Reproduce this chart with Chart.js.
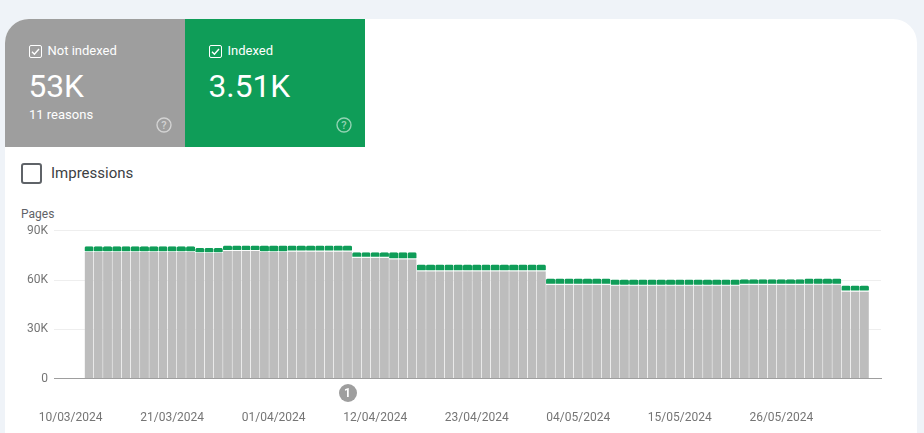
<!DOCTYPE html>
<html>
<head>
<meta charset="utf-8">
<title>Page indexing</title>
<script src="https://cdn.jsdelivr.net/npm/chart.js"></script>
<style>
    html, body { margin: 0; padding: 0; width: 924px; height: 433px; overflow: hidden; background: #eff3f8; font-family: Roboto, sans-serif; }
    .card { position: absolute; left: 5px; top: 19px; width: 912px; height: 440px; background: #fff; border-radius: 24px 24px 0 0; overflow: hidden; }
    .tile { position: absolute; top: 0; width: 180px; height: 128px; color: #fff; }
    .tile.grey { left: 0; background: #9e9e9e; }
    .tile.green { left: 180px; background: #0f9d58; }
    .tile svg.check { position: absolute; left: 24px; top: 26px; }
    .tile .name { position: absolute; left: 42.5px; top: 24px; font-size: 13px; line-height: 16px; }
    .tile .big { position: absolute; left: 23.5px; top: 49px; font-size: 31.7px; line-height: 38px; }
    .tile .sub { position: absolute; left: 24px; top: 88px; font-size: 13px; line-height: 16px; }
    .tile svg.help { position: absolute; left: 150.5px; top: 98px; }
    .impressions { position: absolute; left: 21px; top: 163px; width: 17px; height: 17px; border: 2px solid #5f6368; border-radius: 3px; }
    .impressions-label { position: absolute; left: 51px; top: 164px; font-size: 15px; line-height: 18px; color: #3c4043; }
    .pages { position: absolute; left: 21px; top: 207px; font-size: 12px; line-height: 14px; color: #5f6368; }
    #wrap { position: absolute; left: 0; top: 200px; width: 924px; height: 233px; }
    .badge { position: absolute; left: 338.5px; top: 384px; width: 18px; height: 18px; border-radius: 50%; background: #9e9e9e; color: #fff; font-size: 12px; font-weight: 700; line-height: 18px; text-align: center; }
</style>
</head>
<body>
<div class="card">
    <div class="tile grey">
        <svg class="check" width="13" height="13" viewBox="0 0 13 13"><rect x=".5" y=".5" width="12" height="12" rx="1.5" fill="none" stroke="#fff"/><path d="M3 6.8l2.4 2.4L10 4" fill="none" stroke="#fff" stroke-width="1.4"/></svg>
        <div class="name">Not indexed</div>
        <div class="big">53K</div>
        <div class="sub">11 reasons</div>
        <svg class="help" width="16" height="16" viewBox="0 0 16 16"><circle cx="8" cy="8" r="7" fill="none" stroke="#fff" stroke-opacity=".55" stroke-width="1.4"/><text x="8" y="12" font-size="11" font-weight="500" text-anchor="middle" fill="#fff" fill-opacity=".55">?</text></svg>
    </div>
    <div class="tile green">
        <svg class="check" width="13" height="13" viewBox="0 0 13 13"><rect x=".5" y=".5" width="12" height="12" rx="1.5" fill="none" stroke="#fff"/><path d="M3 6.8l2.4 2.4L10 4" fill="none" stroke="#fff" stroke-width="1.4"/></svg>
        <div class="name">Indexed</div>
        <div class="big">3.51K</div>
        <svg class="help" width="16" height="16" viewBox="0 0 16 16"><circle cx="8" cy="8" r="7" fill="none" stroke="#fff" stroke-opacity=".55" stroke-width="1.4"/><text x="8" y="12" font-size="11" font-weight="500" text-anchor="middle" fill="#fff" fill-opacity=".55">?</text></svg>
    </div>
</div>
<div class="impressions"></div>
<div class="impressions-label">Impressions</div>
<div class="pages">Pages</div>
<div id="wrap"><canvas id="chart"></canvas></div>
<div class="badge">1</div>

<script>
// Values, one per day, in thousands of pages
const notIndexed = [
    77, 77, 77, 77, 77, 77, 77, 77, 77, 77, 77, 77,
    76.4, 76.4, 76.4,
    77.8, 77.8, 77.8, 77.8,
    77, 77, 77,
    77.4, 77.4, 77.4, 77.4, 77.4, 77.4, 77.4,
    73.6, 73.6, 73.6, 73.6,
    72.7, 72.7, 72.7,
    65.4, 65.4, 65.4, 65.4, 65.4, 65.4, 65.4, 65.4, 65.4, 65.4, 65.4, 65.4, 65.4, 65.4,
    57.2, 57.2, 57.2, 57.2, 57.2, 57.2, 57.2,
    56.6, 56.6, 56.6, 56.6, 56.6, 56.6, 56.6, 56.6, 56.6, 56.6, 56.6, 56.6, 56.6, 56.6,
    57.2, 57.2, 57.2, 57.2, 57.2, 57.2, 57.2,
    57.3, 57.3, 57.3, 57.3,
    53.1, 53.1, 53.1
];
const indexed = [
    3.5, 3.5, 3.5, 3.5, 3.5, 3.5, 3.5, 3.5, 3.5, 3.5, 3.5, 3.5,
    3.15, 3.15, 3.15,
    3.15, 3.15, 3.15, 3.15,
    3.95, 3.95, 3.95,
    3.55, 3.55, 3.55, 3.55, 3.55, 3.55, 3.55,
    3.3, 3.3, 3.3, 3.3,
    4.2, 4.2, 4.2,
    4, 4, 4, 4, 4, 4, 4, 4, 4, 4, 4, 4, 4, 4,
    3.7, 3.7, 3.7, 3.7, 3.7, 3.7, 3.7,
    3.7, 3.7, 3.7, 3.7, 3.7, 3.7, 3.7, 3.7, 3.7, 3.7, 3.7, 3.7, 3.7, 3.7,
    3.3, 3.3, 3.3, 3.3, 3.3, 3.3, 3.3,
    3.6, 3.6, 3.6, 3.6,
    3.5, 3.5, 3.5
];
const tickLabels = ['10/03/2024', '21/03/2024', '01/04/2024', '12/04/2024', '23/04/2024', '04/05/2024', '15/05/2024', '26/05/2024'];
const tickDays = [0, 11, 22, 33, 44, 55, 66, 77];
const yTicks = [0, 30, 60, 90];
const firstBarDay = 2; // bars start two days right of the first label

const toPoints = values => values.map((v, i) => ({ x: firstBarDay + i, y: v }));

new Chart(document.getElementById('chart'), {
    type: 'bar',
    data: {
        datasets: [
            {
                label: 'Not indexed',
                data: toPoints(notIndexed),
                backgroundColor: '#bdbdbd',
                borderColor: '#fff',
                borderWidth: { left: 0.2, right: 0.2, top: 0, bottom: 0 },
                borderSkipped: false,
                inflateAmount: 0
            },
            {
                label: 'Indexed',
                data: toPoints(indexed),
                backgroundColor: '#0f9d58',
                borderColor: '#fff',
                borderWidth: { left: 0.1, right: 0.1, top: 0, bottom: 0.8 },
                borderSkipped: false,
                borderRadius: 1.5,
                inflateAmount: 0
            }
        ]
    },
    options: {
        responsive: true,
        maintainAspectRatio: false,
        animation: false,
        barPercentage: 1,
        categoryPercentage: 1,
        layout: { padding: { top: 30.7, right: 43, left: 0, bottom: 0 } },
        plugins: { legend: { display: false }, tooltip: { enabled: false } },
        scales: {
            x: {
                type: 'linear',
                stacked: true,
                offset: false,
                min: -1.8,
                max: 87.8,
                afterBuildTicks: scale => { scale.ticks = tickDays.map(d => ({ value: d })); },
                afterFit: scale => { scale.height = 54.3; },
                grid: { display: false, drawTicks: false, offset: false },
                border: { color: '#9e9e9e' },
                ticks: {
                    autoSkip: false,
                    maxRotation: 0,
                    padding: 32,
                    color: '#757575',
                    font: { family: 'Roboto', size: 12 },
                    callback: (value, index) => tickLabels[index]
                }
            },
            y: {
                stacked: true,
                min: 0,
                max: 90,
                afterBuildTicks: scale => { scale.ticks = yTicks.map(v => ({ value: v })); },
                afterFit: scale => { scale.width = 54; },
                grid: {
                    drawTicks: false,
                    color: ctx => ctx.tick.value === 0 ? '#9e9e9e' : '#eeeeee'
                },
                border: { display: false },
                ticks: {
                    padding: 6,
                    color: '#757575',
                    font: { family: 'Roboto', size: 12 },
                    callback: value => value === 0 ? '0' : value + 'K'
                }
            }
        }
    }
});
</script>
</body>
</html>
